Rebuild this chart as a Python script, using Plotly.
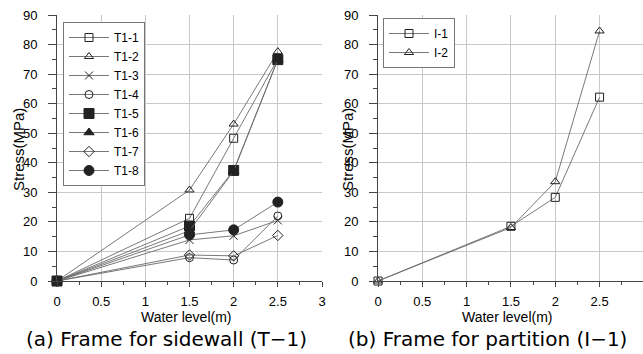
import plotly.graph_objects as go

water_level = [0, 1.5, 2, 2.5]

t1_names = ["T1-1", "T1-2", "T1-3", "T1-4", "T1-5", "T1-6", "T1-7", "T1-8"]
t1_1 = [0, 21.2, 48.3, 75.2]
t1_2 = [0, 30.8, 53.1, 77.6]
t1_3 = [0, 13.9, 15.3, 20.5]
t1_4 = [0, 7.9, 7.1, 22.0]
t1_5 = [0, 18.6, 37.4, 74.9]
t1_6 = [0, 17.0, 37.2, 75.0]
t1_7 = [0, 8.8, 8.5, 15.4]
t1_8 = [0, 15.6, 17.3, 26.7]
t1_values = [t1_1, t1_2, t1_3, t1_4, t1_5, t1_6, t1_7, t1_8]

i_names = ["I-1", "I-2"]
i_1 = [0, 18.5, 28.3, 62.2]
i_2 = [0, 18.1, 33.6, 84.6]
i_values = [i_1, i_2]

x_ticks = [0, 0.5, 1, 1.5, 2, 2.5, 3]
x_tick_labels = ["0", "0.5", "1", "1.5", "2", "2.5", "3"]

t1_symbols = ["square-open", "triangle-up-open", "x-thin-open", "circle-open",
              "square", "triangle-up", "diamond-open", "circle"]
t1_sizes = [8, 8, 8, 8, 10, 9, 8, 10]
i_symbols = ["square-open", "triangle-up-open"]
i_sizes = [8, 8]

LINE = "#6a6a6a"
MK = "#222222"
GRID = "#c8c8c8"
AX = "#444444"

fig = go.Figure()
for name, vals, sym, sz in zip(t1_names, t1_values, t1_symbols, t1_sizes):
    fig.add_trace(go.Scatter(
        x=water_level, y=vals, name=name, mode="lines+markers",
        line=dict(color=LINE, width=0.9),
        marker=dict(symbol=sym, size=sz, color=MK, line=dict(color=MK, width=1)),
        xaxis="x", yaxis="y", legend="legend", cliponaxis=False))
for name, vals, sym, sz in zip(i_names, i_values, i_symbols, i_sizes):
    fig.add_trace(go.Scatter(
        x=water_level, y=vals, name=name, mode="lines+markers",
        line=dict(color=LINE, width=0.9),
        marker=dict(symbol=sym, size=sz, color=MK, line=dict(color=MK, width=1)),
        xaxis="x2", yaxis="y2", legend="legend2", cliponaxis=False))

W, H = 643, 354
ydom = [1 - 281 / H, 1 - 15 / H]
tickfont = dict(family="Liberation Sans, Arial, sans-serif", size=13, color="#000")

def xaxis(domain, rng, anchor):
    return dict(domain=domain, range=rng, anchor=anchor, tickmode="array",
                tickvals=x_ticks, ticktext=x_tick_labels,
                showgrid=True, gridcolor=GRID, gridwidth=1,
                zeroline=False, showline=True, linecolor=AX, linewidth=1,
                ticks="outside", ticklen=5, tickcolor=AX,
                minor=dict(dtick=0.25, ticks="outside", ticklen=3, tickcolor=AX, showgrid=False),
                tickfont=tickfont, ticklabelstandoff=3, automargin=False)

def yaxis(anchor):
    return dict(domain=ydom, range=[0, 90], anchor=anchor, dtick=10,
                showgrid=True, gridcolor=GRID, gridwidth=1,
                zeroline=False, showline=True, linecolor=AX, linewidth=1,
                ticks="outside", ticklen=8, tickcolor=AX,
                minor=dict(dtick=5, ticks="outside", ticklen=4, tickcolor=AX, showgrid=False),
                tickfont=tickfont, ticklabelstandoff=8, automargin=False)

legend_style = dict(bgcolor="white", bordercolor="#777", borderwidth=1,
                    font=dict(family="Liberation Sans, Arial, sans-serif", size=12, color="#000"),
                    xanchor="left", yanchor="top", tracegroupgap=0, itemwidth=40)

lab_font = dict(family="Liberation Sans, Arial, sans-serif", size=14, color="#000")
ylab_font = dict(family="Liberation Sans, Arial, sans-serif", size=15, color="#000")
cap_font = dict(family="DejaVu Sans, sans-serif", size=20, color="#000")

def ann(text, px, py, font, angle=0):
    return dict(text=text, x=px / W, y=1 - py / H, xref="paper", yref="paper",
                xanchor="center", yanchor="middle", textangle=angle,
                showarrow=False, font=font)

annotations = [
    ann("Stress(MPa)", 18, 150, ylab_font, -90),
    ann("Stress(MPa)", 347, 150, ylab_font, -90),
    ann("Water level(m)", 186, 317, lab_font),
    ann("Water level(m)", 507.5, 317, lab_font),
    ann("(a) Frame for sidewall (T\u22121)", 166, 339, cap_font),
    ann("(b) Frame for partition (I\u22121)", 487, 339, cap_font),
]

fig.update_layout(
    width=W, height=H, margin=dict(l=0, r=0, t=0, b=0),
    paper_bgcolor="white", plot_bgcolor="white",
    xaxis=xaxis([57 / W, 322 / W], [0, 3], "y"),
    yaxis=yaxis("x"),
    xaxis2=xaxis([378 / W, 1.0], [0, 2.99], "y2"),
    yaxis2=yaxis("x2"),
    legend=dict(x=63 / W, y=1 - 22 / H, **legend_style),
    legend2=dict(x=383 / W, y=1 - 18 / H, **legend_style),
    annotations=annotations,
    showlegend=True,
)

fig.write_html("out.html")
